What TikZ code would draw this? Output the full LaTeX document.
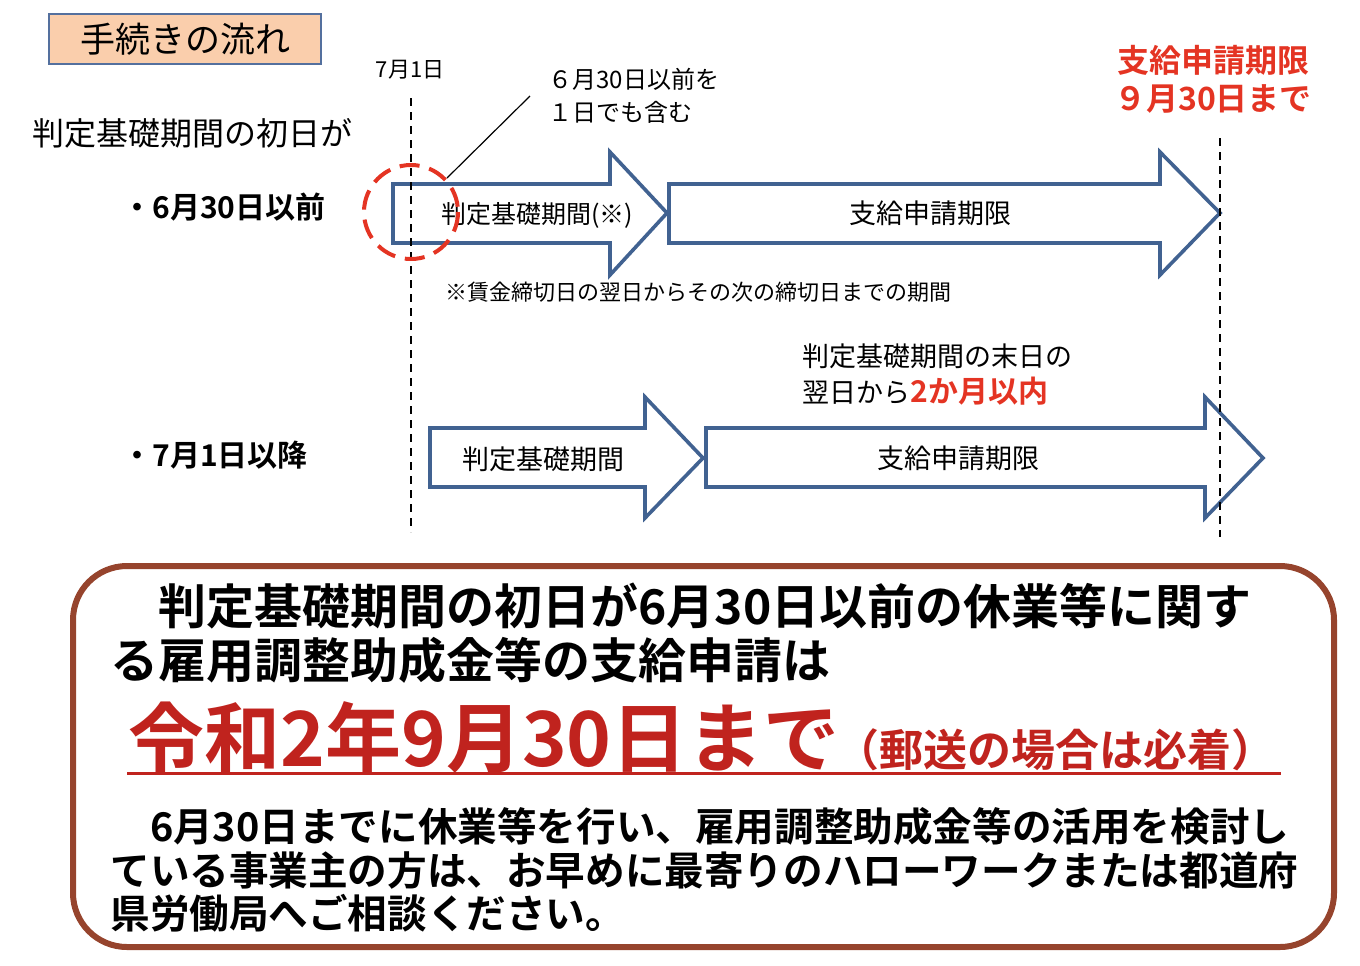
\documentclass[tikz,border=0pt]{standalone}
\usepackage{fontspec}
\setmainfont{Noto Sans CJK JP}[BoldFont={Noto Sans CJK JP Bold}]
\usetikzlibrary{positioning}
\definecolor{arblue}{RGB}{65,98,145}
\definecolor{ttlfill}{RGB}{250,206,172}
\definecolor{ttlline}{RGB}{84,112,158}
\definecolor{alert}{RGB}{228,52,35}
\definecolor{brick}{RGB}{150,68,45}
\definecolor{deep}{RGB}{192,35,30}

\begin{document}
\begin{tikzpicture}[x=0.5pt,y=-0.5pt,inner sep=0pt]
\tikzset{fs/.style={font=\fontsize{#1}{#1}\selectfont},bfs/.style={font=\bfseries\fontsize{#1}{#1}\selectfont},
  bigarr/.style={draw=arblue,line width=1.8pt,fill=white,line join=miter},
  guide/.style={draw=black,line width=0.75pt,dash pattern=on 4pt off 3pt},
  ring/.style={draw=alert,line width=2pt,dash pattern=on 10pt off 5pt}}
\useasboundingbox (0,0) rectangle (1360,965);
% heading and row labels
\node[draw=ttlline,fill=ttlfill,line width=1pt,minimum width=136pt,minimum height=25pt,fs=17.5pt] (ttl) at (185,39) {手続きの流れ};
\node[fs=11pt] (d701) at (410,70) {7月1日};
\node[fs=16pt,anchor=west] (lead) at (32,133) {判定基礎期間の初日が};
\node[bfs=15pt,anchor=west] (before) at (122,207) {・6月30日以前};
\node[bfs=15pt,anchor=west] (after) at (122,455) {・7月1日以降};
% arrows, row 1
\draw[bigarr] (393,184)--(610,184)--(610,152)--(667,213)--(610,275)--(610,243)--(393,243)--cycle;
\draw[bigarr] (669,184)--(1160,184)--(1160,152)--(1220,213)--(1160,275)--(1160,243)--(669,243)--cycle;
\node[fs=12.5pt] (p1) at (537,215) {判定基礎期間(※)};
\node[fs=13.5pt] (q1) at (930,213) {支給申請期限};
% arrows, row 2
\draw[bigarr] (430,428)--(645,428)--(645,397)--(703,458)--(645,518)--(645,487)--(430,487)--cycle;
\draw[bigarr] (706,428)--(1205,428)--(1205,397)--(1263,458)--(1205,518)--(1205,487)--(706,487)--cycle;
\node[fs=13.5pt] (p3) at (543,459) {判定基礎期間};
\node[fs=13.5pt] (q3) at (958,458) {支給申請期限};
% date guides
\coordinate (j1top) at (411,98); \coordinate (j1bot) at (411,532);
\coordinate (s30top) at (1220,138); \coordinate (s30bot) at (1220,537);
\draw[guide] (j1top)--(j1bot);
\draw[guide] (s30top)--(s30bot);
% callouts
\coordinate (c0630) at (411,212);
\draw[ring] (c0630) circle [radius=47];
\coordinate (lk) at (447,178);
\node[anchor=west,inner xsep=9pt,align=left,font=\fontsize{12pt}{16.5pt}\selectfont] (incl) at (530,96) {６月30日以前を\\１日でも含む};
\draw[line width=0.6pt] (lk)--(incl.west);
\node[align=center,text=alert,font=\bfseries\fontsize{16pt}{19pt}\selectfont] (lim) at (1213,79) {支給申請期限\\９月30日まで};
\node[fs=11pt,anchor=west] (fn) at (445,292) {※賃金締切日の翌日からその次の締切日までの期間};
\node[anchor=west,align=left,font=\fontsize{13.5pt}{18pt}\selectfont] (two) at (802,375) {判定基礎期間の末日の\\翌日から{\color{alert}\bfseries\fontsize{15pt}{15pt}\selectfont 2か月以内}};
% notice box
\draw[brick,line width=3pt,rounded corners=27pt] (73,566) rectangle (1334,947);
\node[bfs=24pt,anchor=west] (m1) at (110,606) {　判定基礎期間の初日が6月30日以前の休業等に関す};
\node[bfs=24pt,anchor=west] (m2) at (110,660) {る雇用調整助成金等の支給申請は};
\node[bfs=38pt,anchor=base west,text=deep] (big) at (128,766) {令和2年9月30日まで};
\node[bfs=22pt,anchor=base west,text=deep] (post) at (835,766) {（郵送の場合は必着）};
\coordinate (ul0) at (127,773); \coordinate (ul1) at (1281,773);
\draw[deep,line width=1.5pt] (ul0)--(ul1);
\node[bfs=19.8pt,anchor=west] (n1) at (110,826) {　6月30日までに休業等を行い、雇用調整助成金等の活用を検討し};
\node[bfs=19.8pt,anchor=west] (n2) at (110,870) {ている事業主の方は、お早めに最寄りのハローワークまたは都道府};
\node[bfs=19.8pt,anchor=west] (n3) at (110,913) {県労働局へご相談ください。};
\end{tikzpicture}
\end{document}
